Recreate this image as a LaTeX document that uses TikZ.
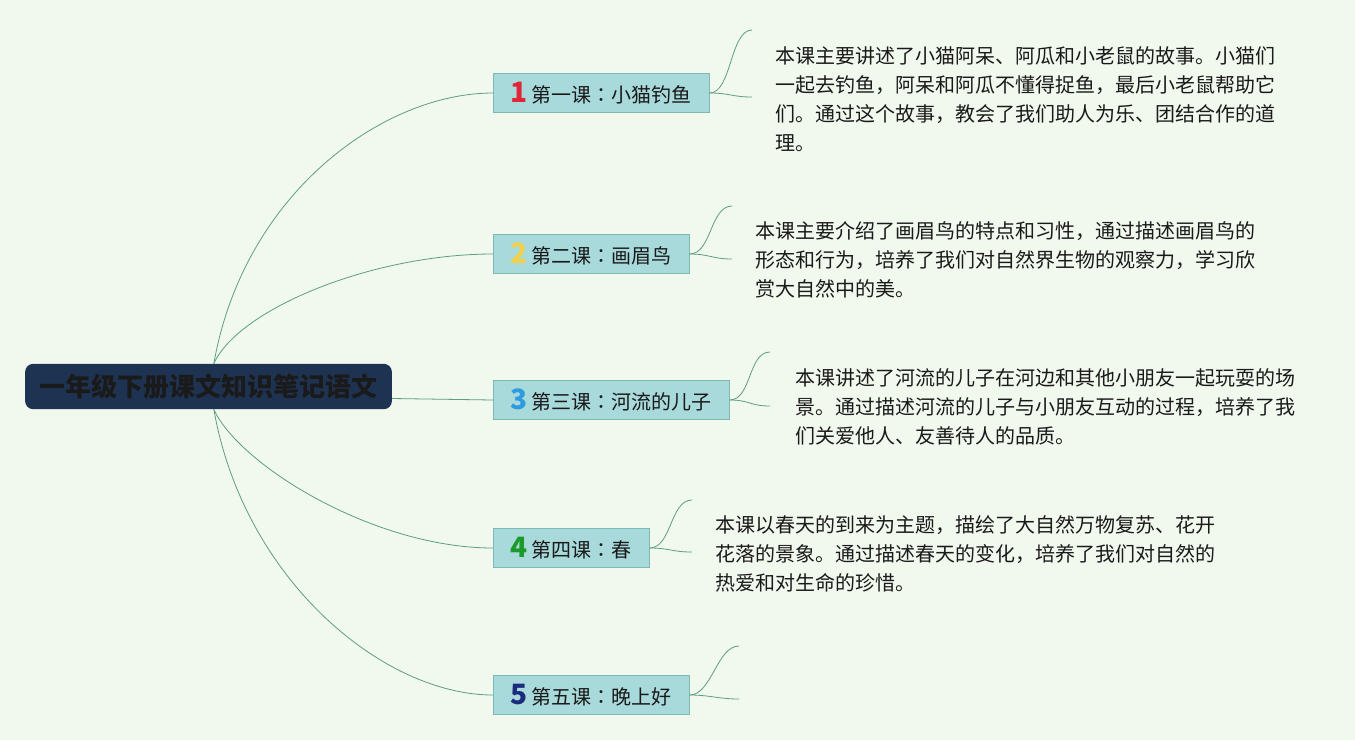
\documentclass[tikz,border=0pt]{standalone}
\usepackage{fontspec}
\setmainfont{Noto Sans CJK SC}
\newfontfamily\jpfont{Noto Sans CJK JP}
\usepackage{xcolor}
\usetikzlibrary{positioning,calc}
\definecolor{paper}  {HTML}{F1F8EE}
\definecolor{ink}    {HTML}{1A1A1A}
\definecolor{navy}   {HTML}{1E3352}
\definecolor{teal}   {HTML}{A8D9DB}
\definecolor{rim}    {HTML}{7DBAB4}
\definecolor{wire}   {HTML}{5E9E80}
\definecolor{numred} {HTML}{E0243A}
\definecolor{numyel} {HTML}{F2D04A}
\definecolor{numblu} {HTML}{2E9BE0}
\definecolor{numgrn} {HTML}{1E9A2A}
\definecolor{numnvy} {HTML}{1A2C7E}
\newcommand{\lnum}[2]{{\color{#1}\fontsize{21}{21}\selectfont\bfseries #2}\hspace{3pt}}
\newcommand{\lcolon}{{\jpfont ：}}
\tikzset{
  rootbox/.style={fill=navy,rounded corners=6pt,minimum width=275pt,minimum height=34pt,
                  inner sep=0pt,text=ink,font=\fontsize{19.5}{19.5}\selectfont\bfseries},
  lessonbox/.style={draw=rim,line width=0.7pt,fill=teal,minimum height=29.25pt,
                    inner xsep=13pt,inner ysep=0pt,text=ink,anchor=west,
                    font=\fontsize{15}{15}\selectfont},
  notetext/.style={anchor=west,align=left,inner sep=0pt,text=ink,
                   font=\fontsize{15}{21.75}\selectfont},
  link/.style={draw=wire,line width=0.6pt},
}
\begin{document}
\begin{tikzpicture}[x=0.75pt,y=-0.75pt]
  \fill[paper] (0,0) rectangle (1355,740);
  \useasboundingbox (0,0) rectangle (1355,740);

  \node[rootbox] (root) at (208.5,386.5) {一年级下册课文知识笔记语文};

  \node[lessonbox] (l1) at (493,93)  {\lnum{numred}{1}第一课\lcolon 小猫钓鱼};
  \node[lessonbox] (l2) at (493,254) {\lnum{numyel}{2}第二课\lcolon 画眉鸟};
  \node[lessonbox] (l3) at (493,400) {\lnum{numblu}{3}第三课\lcolon 河流的儿子};
  \node[lessonbox] (l4) at (493,548) {\lnum{numgrn}{4}第四课\lcolon 春};
  \node[lessonbox] (l5) at (493,695) {\lnum{numnvy}{5}第五课\lcolon 晚上好};

  % root to lessons
  \draw[link] ([xshift=4pt]root.north) .. controls +(30,-170) and +(-110,0) .. (l1.west);
  \draw[link] ([xshift=4pt]root.north) .. controls +(25,-55) and +(-120,0) .. (l2.west);
  \draw[link] ([yshift=-9pt]root.east) -- (l3.west);
  \draw[link] ([xshift=4pt]root.south) .. controls +(25,55) and +(-120,0) .. (l4.west);
  \draw[link] ([xshift=4pt]root.south) .. controls +(30,170) and +(-110,0) .. (l5.west);

  % bracket ends
  \coordinate (t1) at (752,30);  \coordinate (b1) at (752,97);
  \coordinate (t2) at (732,206); \coordinate (b2) at (732,259);
  \coordinate (t3) at (770,352); \coordinate (b3) at (770,406);
  \coordinate (t4) at (692,500); \coordinate (b4) at (692,552);
  \coordinate (t5) at (739,646); \coordinate (b5) at (739,699);
  \foreach \i in {1,...,5}{
    \draw[link] (l\i.east) .. controls +(22,0) and +(-22,0) .. (t\i);
    \draw[link] (l\i.east) .. controls +(20,0) and +(-20,0) .. (b\i);
  }

  % notes
  \node[notetext] (n1) at (775,99)
    {本课主要讲述了小猫阿呆、阿瓜和小老鼠的故事。小猫们\\
     一起去钓鱼，阿呆和阿瓜不懂得捉鱼，最后小老鼠帮助它\\
     们。通过这个故事，教会了我们助人为乐、团结合作的道\\
     理。};
  \node[notetext] (n2) at (755,260)
    {本课主要介绍了画眉鸟的特点和习性，通过描述画眉鸟的\\
     形态和行为，培养了我们对自然界生物的观察力，学习欣\\
     赏大自然中的美。};
  \node[notetext] (n3) at (795,407)
    {本课讲述了河流的儿子在河边和其他小朋友一起玩耍的场\\
     景。通过描述河流的儿子与小朋友互动的过程，培养了我\\
     们关爱他人、友善待人的品质。};
  \node[notetext] (n4) at (715,554)
    {本课以春天的到来为主题，描绘了大自然万物复苏、花开\\
     花落的景象。通过描述春天的变化，培养了我们对自然的\\
     热爱和对生命的珍惜。};
\end{tikzpicture}
\end{document}
